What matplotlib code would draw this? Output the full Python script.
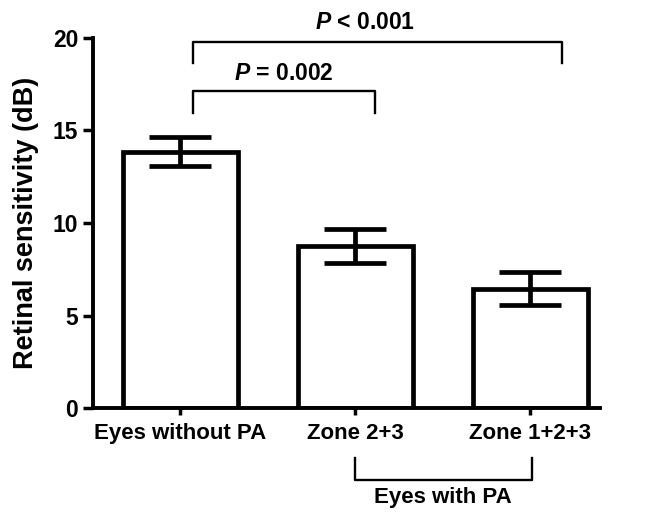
import matplotlib
matplotlib.use("Agg")
import matplotlib.pyplot as plt

categories = ["Eyes without PA", "Zone 2+3", "Zone 1+2+3"]
means = [13.85, 8.75, 6.45]
errors = [0.78, 0.9, 0.9]
yticks = [0, 5, 10, 15, 20]

plt.rcParams['font.family'] = ['Liberation Sans', 'DejaVu Sans']
plt.rcParams['font.weight'] = 'bold'
plt.rcParams['mathtext.fontset'] = 'custom'
plt.rcParams['mathtext.bfit'] = 'Liberation Sans:italic:bold'
plt.rcParams['mathtext.rm'] = 'Liberation Sans:bold'

fig = plt.figure(figsize=(6.49, 5.12), dpi=100)
ax = fig.add_axes([0.143, 0.203, 0.782, 0.723])

x = list(range(len(categories)))
ax.bar(x, means, width=0.66, color='white', edgecolor='black', linewidth=3.4, zorder=2)
ax.errorbar(x, means, yerr=errors, fmt='none', ecolor='black', elinewidth=3.4,
            capsize=22, capthick=3.4, zorder=3)

ax.set_xlim(-0.5, 2.4)
ax.set_ylim(0, 20)
ax.set_yticks(yticks)
ax.set_xticks(x)
ax.set_xticklabels(categories, fontsize=16, fontweight='bold')
ax.tick_params(axis='y', labelsize=16.5, width=2.5, length=7, direction='out')
ax.tick_params(axis='x', width=2.5, length=5, direction='out', pad=6)
for lab in ax.get_yticklabels():
    lab.set_fontweight('bold')
ax.spines['top'].set_visible(False)
ax.spines['right'].set_visible(False)
ax.spines['left'].set_linewidth(2.8)
ax.spines['bottom'].set_linewidth(2.8)
ax.set_ylabel("Retinal sensitivity (dB)", fontsize=19.5, fontweight='bold', labelpad=10)

# significance brackets (data coordinates)
lw_b = 1.7
ax.plot([0.07, 0.07, 2.18, 2.18], [18.65, 19.8, 19.8, 18.65], color='black', lw=lw_b, clip_on=False)
ax.text(1.055, 20.2, r"$\bfit{P}$ < 0.001", ha='center', va='bottom', fontsize=16.5, fontweight='bold')
ax.plot([0.07, 0.07, 1.11, 1.11], [15.95, 17.14, 17.14, 15.95], color='black', lw=lw_b, clip_on=False)
ax.text(0.59, 17.45, r"$\bfit{P}$ = 0.002", ha='center', va='bottom', fontsize=16.5, fontweight='bold')

# bottom group bracket
trans = ax.get_xaxis_transform()
ax.plot([1.0, 1.0, 2.01, 2.01], [-0.135, -0.195, -0.195, -0.135], color='black', lw=lw_b,
        transform=trans, clip_on=False)
ax.text(1.5, -0.212, "Eyes with PA", ha='center', va='top', fontsize=16, fontweight='bold',
        transform=trans)

fig.savefig("out.png", dpi=100)
